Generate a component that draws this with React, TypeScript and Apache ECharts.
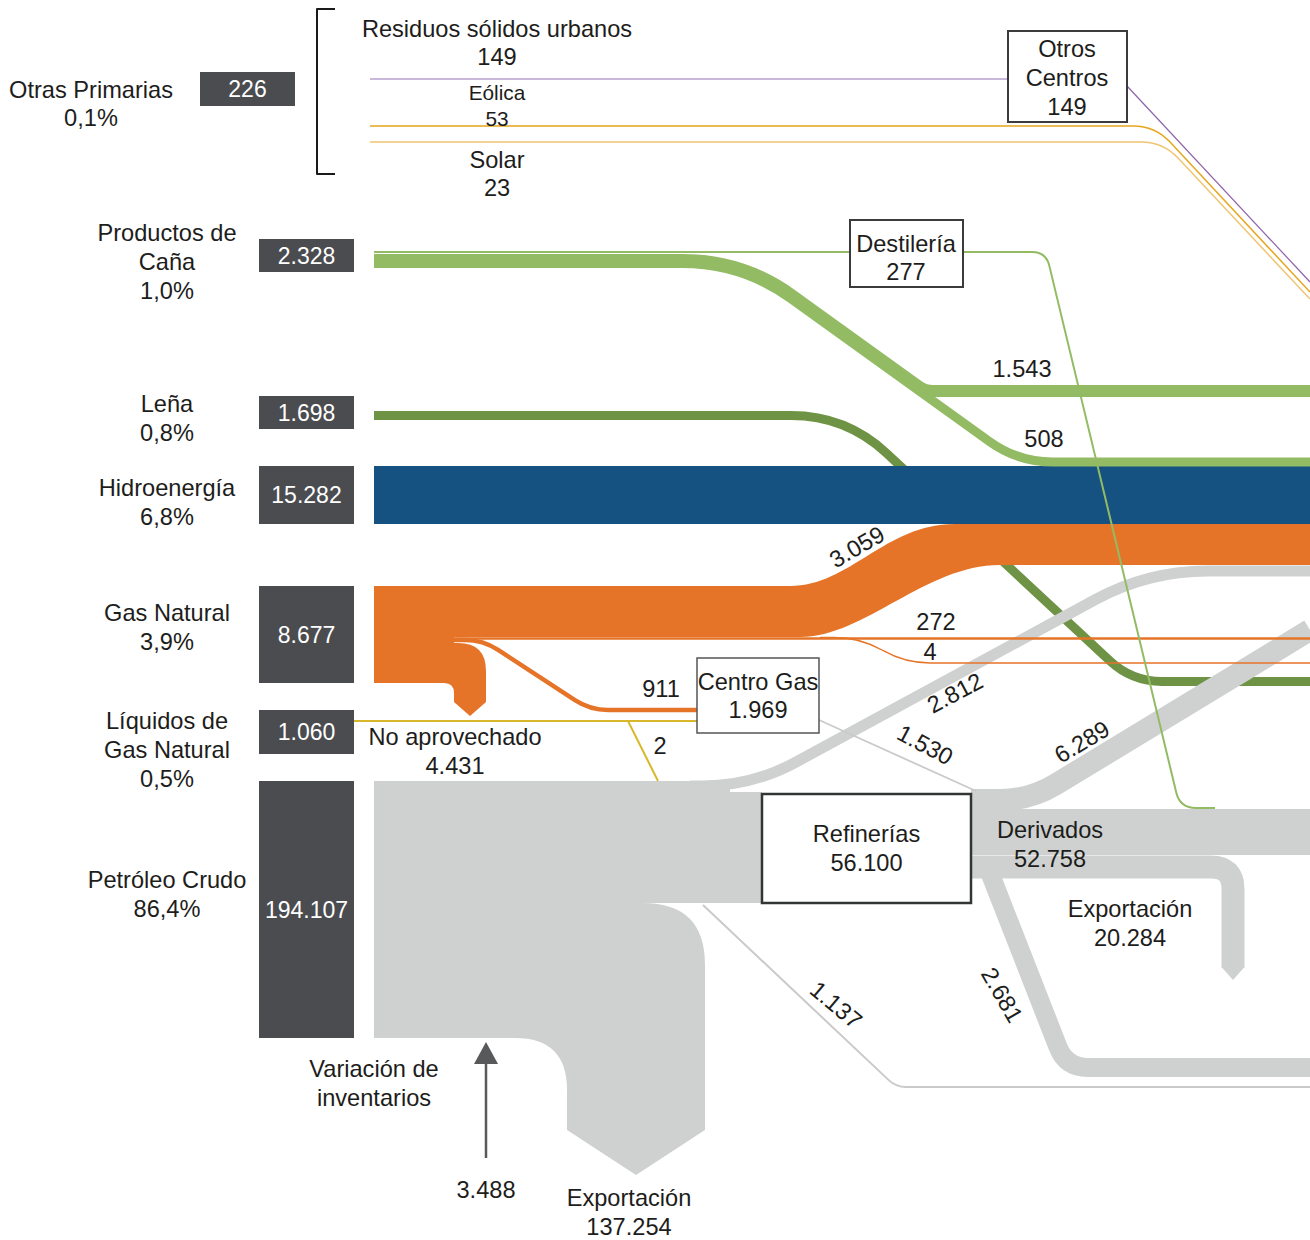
import { useEffect, useRef } from "react";
import * as echarts from "echarts";

// ---------------- DATA ----------------
const sourceNames = ["Otras Primarias", "Productos de\nCaña", "Leña", "Hidroenergía", "Gas Natural", "Líquidos de\nGas Natural", "Petróleo Crudo"];
const sourceValues = [226, 2328, 1698, 15282, 8677, 1060, 194107];
const sourceShares = ["0,1%", "1,0%", "0,8%", "6,8%", "3,9%", "0,5%", "86,4%"];

const otherNames = ["Residuos sólidos urbanos", "Eólica", "Solar"];
const otherValues = [149, 53, 23];

const centerNames = ["Otros\nCentros", "Destilería", "Centro Gas", "Refinerías"];
const centerValues = [149, 277, 1969, 56100];

const flowCaptions = ["", "", "", "", "", "", "No aprovechado", "", "", "", "", "Derivados", "Exportación", "", "", "", "Exportación"];
const flowValues = [1543, 508, 3059, 272, 4, 911, 4431, 2, 2812, 1530, 6289, 52758, 20284, 2681, 1137, 3488, 137254];
const inventoryCaption = "Variación de\ninventarios";

// ---------------- LAYOUT (positions, sizes, styles) ----------------
const W = 1310;
const H = 1240;
const FONT = '"Liberation Sans", Arial, Helvetica, sans-serif';
const FS = 23.6;
const TXT = "#1d1d1b";
const C = {
  box: "#4b4c50",
  cana: "#93bb64",
  lena: "#6f9345",
  hydro: "#155281",
  gas: "#e67428",
  lgn: "#d8b72b",
  gray: "#cfd1d0",
  grayLine: "#c9cac9",
  purpleL: "#b7a0cc",
  purpleD: "#8d63a9",
  eolica: "#e6a61d",
  solar: "#efc571",
  arrow: "#58595b",
};

const fmt = (n: number) => String(n).replace(/\B(?=(\d{3})+(?!\d))/g, ".");
const deg = (d: number) => (d * Math.PI) / 180;

type El =
  | { kind: "stroke"; pts: number[][]; r?: number[]; w: number; color: string }
  | { kind: "fill"; cmds: (string | number)[][]; color: string }
  | { kind: "poly"; pts: number[][]; color: string }
  | { kind: "rect"; x: number; y: number; w: number; h: number; fill: string; stroke?: string; lw?: number }
  | { kind: "text"; text: string; x: number; y: number; size?: number; lh?: number; rot?: number; color?: string };

const sourceBoxes = [
  [200, 72, 95, 34],
  [259, 239, 95, 33],
  [259, 396, 95, 33],
  [259, 466, 95, 58],
  [259, 586, 95, 97],
  [259, 710, 95, 44],
  [259, 781, 95, 257],
];
const sourceLabelPos = [[91, 104], [167, 262], [167, 418], [167, 502], [167, 627], [167, 750], [167, 894]];
const otherLabelPos = [[497, 43, FS, 28], [497, 105, 20.8, 26], [497, 173.5, FS, 28]];
const centerBoxes = [
  [1008, 31, 119, 91, "#3a3b3d", 2],
  [850, 220, 113, 67, "#3a3b3d", 2],
  [697, 658, 122, 75, "#555658", 1.5],
  [762, 794, 209, 109, "#333436", 2.5],
];
const centerLabelPos = [[1067, 78, 29], [906, 258, 28], [758, 696, 28], [866.5, 848, 29]];
const flowLabelPos: number[][] = [
  [1022, 369, 0], [1044, 439, 0], [857, 547, 30], [936, 622, 0], [930, 652, 0], [661, 689, 0],
  [455, 751, 0], [660, 746, 0], [955, 693, 28], [925, 745, -28], [1082, 742, 31],
  [1050, 844.5, 0], [1130, 923.5, 0], [1002, 995, -60], [836, 1005, -40], [486, 1190, 0], [629, 1212, 0],
];

const elements: El[] = [];
const add = (e: El) => elements.push(e);

// Leña (under hydro / gas)
add({ kind: "stroke", pts: [[374, 415.5], [846, 415.5], [1132, 681.5], [1310, 681.5]], r: [55, 30], w: 9, color: C.lena });
// Hidroenergía
add({ kind: "stroke", pts: [[374, 495], [1310, 495]], w: 58, color: C.hydro });
// Gas natural main band
add({ kind: "fill", color: C.gas, cmds: [["M", 374, 586], ["L", 790, 586], ["C", 850, 586, 885, 524, 955, 524], ["L", 1310, 524], ["L", 1310, 565], ["L", 1000, 565], ["C", 925, 565, 865, 637, 800, 637], ["L", 374, 637], ["Z"]] });
// No aprovechado arrow
add({ kind: "fill", color: C.gas, cmds: [["M", 374, 636], ["L", 454, 636], ["L", 454, 643], ["L", 458, 643], ["Q", 486, 643, 486, 671], ["L", 486, 702], ["L", 470, 716], ["L", 454, 702], ["L", 454, 693], ["Q", 454, 683, 444, 683], ["L", 374, 683], ["Z"]] });
// Caña
add({ kind: "stroke", pts: [[374, 260], [743, 260], [925, 391], [1310, 391]], r: [60, 8], w: 12, color: C.cana });
add({ kind: "stroke", pts: [[374, 263.5], [742, 263.5], [1018, 462], [1310, 462]], r: [60, 35], w: 9, color: C.cana });
// Petróleo crudo body + export arrow
add({ kind: "fill", color: C.gray, cmds: [["M", 374, 781], ["L", 730, 781], ["L", 730, 792], ["L", 762, 792], ["L", 762, 903], ["L", 643, 903], ["Q", 705, 903, 705, 965], ["L", 705, 1130], ["L", 636, 1175], ["L", 567, 1130], ["L", 567, 1090], ["Q", 567, 1038, 515, 1038], ["L", 374, 1038], ["Z"]] });
add({ kind: "stroke", pts: [[690, 786], [752, 786], [1148, 571], [1310, 571]], r: [50, 60], w: 11, color: C.gray });
// Derivados
add({ kind: "stroke", pts: [[971, 800], [1030, 800], [1310, 630]], r: [30], w: 22, color: C.gray });
add({ kind: "rect", x: 971, y: 809, w: 339, h: 46, fill: C.gray });
add({ kind: "stroke", pts: [[971, 867], [1233, 867], [1233, 968]], r: [22], w: 23, color: C.gray });
add({ kind: "poly", pts: [[1221.5, 967], [1244.5, 967], [1233, 980]], color: C.gray });
add({ kind: "stroke", pts: [[988, 868], [1066, 1067.5], [1310, 1067.5]], r: [22], w: 19, color: C.gray });
// thin lines
add({ kind: "stroke", pts: [[703, 905], [896, 1087], [1310, 1087]], r: [10], w: 2, color: C.grayLine });
add({ kind: "stroke", pts: [[819, 720], [976, 791]], w: 1.8, color: C.grayLine });
add({ kind: "stroke", pts: [[454, 638.5], [1310, 638.5]], w: 2.5, color: C.gas });
add({ kind: "stroke", pts: [[820, 637.5], [860, 637.5], [905, 663], [1310, 663]], r: [30, 25], w: 1.3, color: C.gas });
add({ kind: "stroke", pts: [[454, 640], [483, 640], [590, 710], [697, 710]], r: [18, 18], w: 4.5, color: C.gas });
add({ kind: "stroke", pts: [[354, 721], [697, 721]], w: 2.2, color: C.lgn });
add({ kind: "stroke", pts: [[628, 721], [658, 781]], w: 2, color: C.lgn });
add({ kind: "stroke", pts: [[374, 252], [850, 252]], w: 2.2, color: C.cana });
add({ kind: "stroke", pts: [[963, 252], [1046, 252], [1180, 808], [1215, 808]], r: [14, 16], w: 2, color: C.cana });
// Otras primarias lines
add({ kind: "stroke", pts: [[370, 79], [1008, 79]], w: 1.5, color: C.purpleL });
add({ kind: "stroke", pts: [[1127, 86], [1310, 282]], w: 1.2, color: C.purpleD });
add({ kind: "stroke", pts: [[370, 126], [1155, 126], [1310, 292]], r: [22], w: 1.5, color: C.eolica });
add({ kind: "stroke", pts: [[370, 142], [1163, 142], [1310, 299]], r: [22], w: 1.5, color: C.solar });
// bracket
add({ kind: "stroke", pts: [[335, 9], [317, 9], [317, 174], [335, 174]], w: 2, color: "#1a1a1a" });
// variación de inventarios arrow
add({ kind: "stroke", pts: [[486, 1158], [486, 1062]], w: 2.5, color: C.arrow });
add({ kind: "poly", pts: [[474, 1064], [498, 1064], [486, 1042]], color: C.arrow });

// source boxes and labels
sourceNames.forEach((name, i) => {
  const [x, y, w, h] = sourceBoxes[i];
  add({ kind: "rect", x, y, w, h, fill: C.box });
  add({ kind: "text", text: fmt(sourceValues[i]), x: x + w / 2, y: y + h / 2, size: 23, color: "#ffffff" });
  const [lx, ly] = sourceLabelPos[i];
  add({ kind: "text", text: name + "\n" + sourceShares[i], x: lx, y: ly, lh: i === 0 ? 28 : 29 });
});
otherNames.forEach((name, i) => {
  const [x, y, s, lh] = otherLabelPos[i];
  add({ kind: "text", text: name + "\n" + fmt(otherValues[i]), x, y, size: s, lh });
});
centerNames.forEach((name, i) => {
  const [x, y, w, h, st, lw] = centerBoxes[i] as [number, number, number, number, string, number];
  add({ kind: "rect", x, y, w, h, fill: "#ffffff", stroke: st, lw });
  const [lx, ly, lh] = centerLabelPos[i];
  add({ kind: "text", text: name + "\n" + fmt(centerValues[i]), x: lx, y: ly, lh });
});
flowValues.forEach((v, i) => {
  const [x, y, rot] = flowLabelPos[i];
  const cap = flowCaptions[i];
  add({ kind: "text", text: cap ? cap + "\n" + fmt(v) : fmt(v), x, y, rot, lh: 29 });
});
add({ kind: "text", text: inventoryCaption, x: 374, y: 1083.5, lh: 29 });

function roundPath(P: number[][], radii: number[]): string {
  let d = `M${P[0][0]} ${P[0][1]}`;
  for (let i = 1; i < P.length - 1; i++) {
    const [ax, ay] = P[i - 1];
    const [px, py] = P[i];
    const [bx, by] = P[i + 1];
    const d1 = Math.hypot(ax - px, ay - py);
    const d2 = Math.hypot(bx - px, by - py);
    let r = radii.length ? radii[Math.min(i - 1, radii.length - 1)] : 0;
    r = Math.min(r, d1 * (i === 1 ? 1 : 0.5), d2 * (i === P.length - 2 ? 1 : 0.5));
    if (r <= 0) {
      d += ` L${px} ${py}`;
      continue;
    }
    const p1 = [px + ((ax - px) * r) / d1, py + ((ay - py) * r) / d1];
    const p2 = [px + ((bx - px) * r) / d2, py + ((by - py) * r) / d2];
    d += ` L${p1[0]} ${p1[1]} Q${px} ${py} ${p2[0]} ${p2[1]}`;
  }
  const L = P[P.length - 1];
  d += ` L${L[0]} ${L[1]}`;
  return d;
}

function renderItem(_params: any, api: any) {
  const el = elements[api.value(2)];
  const c = (x: number, y: number) => api.coord([x, y]) as number[];
  if (el.kind === "stroke") {
    const pts = el.pts.map((p) => c(p[0], p[1]));
    return {
      type: "path",
      shape: { pathData: roundPath(pts, el.r || []) },
      style: { fill: "none", stroke: el.color, lineWidth: el.w, lineCap: "butt", lineJoin: "round" },
    };
  }
  if (el.kind === "fill") {
    let d = "";
    for (const cmd of el.cmds) {
      const op = cmd[0] as string;
      const nums = cmd.slice(1) as number[];
      const out: number[] = [];
      for (let k = 0; k < nums.length; k += 2) out.push(...c(nums[k], nums[k + 1]));
      d += op + out.join(" ") + " ";
    }
    return { type: "path", shape: { pathData: d }, style: { fill: el.color, stroke: "none" } };
  }
  if (el.kind === "poly") {
    return { type: "polygon", shape: { points: el.pts.map((p) => c(p[0], p[1])) }, style: { fill: el.color } };
  }
  if (el.kind === "rect") {
    const a = c(el.x, el.y);
    const b = c(el.x + el.w, el.y + el.h);
    return {
      type: "rect",
      shape: { x: a[0], y: a[1], width: b[0] - a[0], height: b[1] - a[1] },
      style: { fill: el.fill, stroke: el.stroke || "none", lineWidth: el.lw || 0 },
    };
  }
  const p = c(el.x, el.y);
  return {
    type: "text",
    x: p[0],
    y: p[1],
    rotation: deg(el.rot || 0),
    style: {
      text: el.text,
      x: 0,
      y: 0,
      fill: el.color || TXT,
      fontSize: el.size || FS,
      fontFamily: FONT,
      lineHeight: el.lh || 28,
      align: "center",
      verticalAlign: "middle",
    },
  };
}

export default function App() {
  const ref = useRef<HTMLDivElement>(null);
  useEffect(() => {
    if (!ref.current) return;
    const chart = echarts.init(ref.current, undefined, { renderer: "svg" });
    chart.setOption({
      animation: false,
      grid: { left: 0, right: 0, top: 0, bottom: 0, containLabel: false },
      xAxis: { type: "value", min: 0, max: W, show: false },
      yAxis: { type: "value", min: 0, max: H, inverse: true, show: false },
      series: [
        {
          type: "custom",
          coordinateSystem: "cartesian2d",
          silent: true,
          clip: false,
          encode: { x: 0, y: 1 },
          data: elements.map((e, i) => {
            const a = "pts" in e ? e.pts[0] : "x" in e ? [e.x, e.y] : [0, 0];
            return [a[0], a[1], i];
          }),
          renderItem,
        },
      ],
    });
    return () => chart.dispose();
  }, []);
  return <div ref={ref} style={{ position: "absolute", left: 0, top: 0, width: W, height: H, background: "#ffffff" }} />;
}
